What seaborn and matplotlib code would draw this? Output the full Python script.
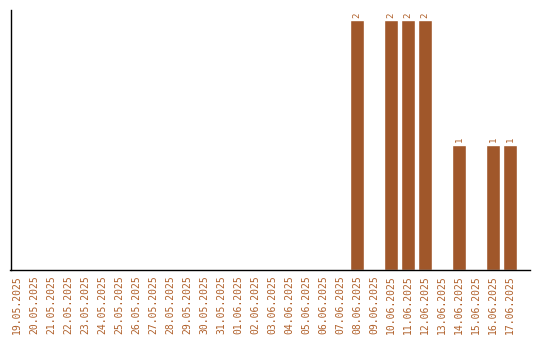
import matplotlib
matplotlib.use("Agg")
import matplotlib.pyplot as plt
import seaborn as sns
import pandas as pd

dates = ["19.05.2025", "20.05.2025", "21.05.2025", "22.05.2025", "23.05.2025",
         "24.05.2025", "25.05.2025", "26.05.2025", "27.05.2025", "28.05.2025",
         "29.05.2025", "30.05.2025", "31.05.2025", "01.06.2025", "02.06.2025",
         "03.06.2025", "04.06.2025", "05.06.2025", "06.06.2025", "07.06.2025",
         "08.06.2025", "09.06.2025", "10.06.2025", "11.06.2025", "12.06.2025",
         "13.06.2025", "14.06.2025", "15.06.2025", "16.06.2025", "17.06.2025"]
counts = [0, 0, 0, 0, 0, 0, 0, 0, 0, 0,
          0, 0, 0, 0, 0, 0, 0, 0, 0, 0,
          2, 0, 2, 2, 2, 0, 1, 0, 1, 1]

sns.set_style("white")
plt.rcParams['font.family'] = ['DejaVu Sans Mono', 'DejaVu Sans']

df = pd.DataFrame({"date": dates, "count": counts})
fig = plt.figure(figsize=(5.4, 3.4), dpi=100)
ax = fig.add_axes([10.5/540, 1 - 270/340, (530 - 10.5)/540, 260/340])
bar_color = "#A0572A"
text_color = "#B0602A"
sns.barplot(data=df, x="date", y="count", color=bar_color, saturation=1,
            width=0.82, ax=ax)

for i, v in enumerate(counts):
    if v > 0:
        ax.text(i, v + 0.02, str(v), rotation=90, ha="center", va="bottom",
                fontsize=6.5, color=text_color)

ax.set_ylim(0, 2.08)
ax.set_xlim(-0.38, len(dates) - 1 + 1.18)
ax.set_xlabel("")
ax.set_ylabel("")
ax.set_yticks([])
ax.tick_params(axis="x", length=0, pad=4, labelsize=7, labelcolor=text_color)
plt.setp(ax.get_xticklabels(), rotation=90)
for s in ["top", "right"]:
    ax.spines[s].set_visible(False)
for s in ["left", "bottom"]:
    ax.spines[s].set_color("black")
    ax.spines[s].set_linewidth(1)

fig.savefig("out.png", dpi=100)
